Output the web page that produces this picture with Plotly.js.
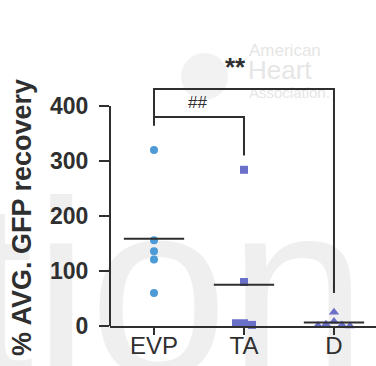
<!DOCTYPE html>
<html><head><meta charset="utf-8">
<script src="https://cdn.plot.ly/plotly-3.0.1.min.js"></script>
<style>html,body{margin:0;padding:0;background:#fff}#chart{width:376px;height:366px}</style>
</head><body><div id="chart"></div>
<script>
// ---- data ----
const categories = ['EVP', 'TA', 'D'];
const evpValues = [320, 156, 136, 121, 60];
const taValues = [284, 80, 5, 2, 5];
const dValues = [25, 8, 3, 2, 1, 0];
const yTickVals = [0, 100, 200, 300, 400];
const yTickText = ['0', '100', '200', '300', '400'];
const yTitle = '% AVG. GFP recovery';
const sigLabels = ['##', '**'];

// ---- geometry ----
const W = 376, H = 366;
const M = {l: 110, r: 0, t: 0, b: 40};
const PW = W - M.l - M.r, PH = H - M.t - M.b;
const xRange = [-0.489, 2.467];
const yRange = [0, 592.7];
const pxX = PW / (xRange[1] - xRange[0]);
const pxY = PH / (yRange[1] - yRange[0]);
const px2paperX = p => (p - M.l) / PW;
const px2paperY = p => (H - M.b - p) / PH;

// simple beeswarm: offsets in x units so markers don't overlap
function swarm(vals, idx, diam, step) {
  const order = vals.map((v, i) => i).sort((a, b) => vals[b] - vals[a]);
  const placed = [];
  const xs = new Array(vals.length);
  order.forEach(i => {
    const yp = vals[i] * pxY;
    for (let k = 0; k < 50; k++) {
      const off = (k === 0 ? 0 : (k % 2 ? -1 : 1) * Math.ceil(k / 2)) * step;
      const ok = placed.every(p => Math.hypot(p.x - off, p.y - yp) >= diam);
      if (ok) { placed.push({x: off, y: yp}); xs[i] = idx + off / pxX; break; }
    }
  });
  return xs;
}

const groups = [
  {vals: evpValues, symbol: 'circle', color: '#4c9bd6', size: 8},
  {vals: taValues, symbol: 'square', color: '#6a6fc8', size: 8},
  {vals: dValues, symbol: 'triangle-up', color: '#6a6fc8', size: 9}
];

const traces = groups.map((g, i) => ({
  type: 'scatter', mode: 'markers',
  x: swarm(g.vals, i, 8, 8), y: g.vals,
  marker: {symbol: g.symbol, color: g.color, size: g.size, line: {width: 0}},
  cliponaxis: false, showlegend: false, hoverinfo: 'skip'
}));

const dark = '#2f2f2f';
const wm = '#efefef';
const shapes = [];
// large background watermark text (drawn below everything)
shapes.push({type: 'rect', xref: 'paper', yref: 'paper', layer: 'below',
  x0: px2paperX(-42), x1: px2paperX(420), y0: px2paperY(408), y1: px2paperY(130),
  line: {width: 0}, fillcolor: 'rgba(0,0,0,0)',
  label: {text: 'tion', textposition: 'bottom left', padding: 3,
    font: {family: 'Liberation Sans, Arial', size: 250, color: wm}}});
// watermark apple
shapes.push({type: 'circle', xref: 'paper', yref: 'paper', layer: 'below',
  x0: px2paperX(181), x1: px2paperX(228), y0: px2paperY(100), y1: px2paperY(53),
  fillcolor: '#f2f2f2', line: {width: 0}});
// AHA watermark words, below
const ahaWords = [['American', 246, 48, 17], ['Heart', 245, 68, 26], ['Association.', 246, 91, 15]];
ahaWords.forEach(([t, x, y, s]) => {
  shapes.push({type: 'rect', xref: 'paper', yref: 'paper', layer: 'below',
    x0: px2paperX(x), x1: px2paperX(x + 150), y0: px2paperY(y + 12), y1: px2paperY(y - 12),
    line: {width: 0}, fillcolor: 'rgba(0,0,0,0)',
    label: {text: t, textposition: 'middle left', padding: 0,
      font: {family: 'Liberation Sans, Arial', size: s, color: '#e6e6e6'}}});
});
// y axis line 0..400
shapes.push({type: 'line', xref: 'paper', yref: 'y', x0: 0, x1: 0, y0: 0, y1: yTickVals[yTickVals.length - 1],
  line: {color: dark, width: 2}});
// mean lines
groups.forEach((g, i) => {
  const m = g.vals.reduce((a, b) => a + b, 0) / g.vals.length;
  shapes.push({type: 'line', xref: 'x', yref: 'y', x0: i - 0.335, x1: i + 0.335, y0: m, y1: m,
    line: {color: dark, width: 2}});
});
// significance brackets
const maxOf = a => Math.max(...a);
const b2 = 431, b1 = 380;
shapes.push({type: 'path', xref: 'x', yref: 'y',
  path: `M 0 ${maxOf(evpValues) + 44} L 0 ${b2} L 2 ${b2} L 2 ${maxOf(dValues) + 35}`,
  line: {color: dark, width: 2}});
shapes.push({type: 'path', xref: 'x', yref: 'y',
  path: `M 0 ${b1} L 1 ${b1} L 1 ${maxOf(taValues) + 26}`,
  line: {color: dark, width: 2}});

const annotations = [
  {text: yTitle, xref: 'paper', yref: 'paper', x: px2paperX(22), y: px2paperY(218),
   xanchor: 'center', yanchor: 'middle', textangle: -90, showarrow: false,
   font: {family: 'Liberation Sans, Arial', size: 27, color: dark, weight: 'bold'}},
  {text: sigLabels[0], xref: 'x', yref: 'y', x: 0.478, y: 407, showarrow: false,
   xanchor: 'center', yanchor: 'middle',
   font: {family: 'Liberation Sans, Arial', size: 17, color: dark}},
  {text: sigLabels[1], xref: 'x', yref: 'y', x: 0.911, y: 470, showarrow: false,
   xanchor: 'center', yanchor: 'middle',
   font: {family: 'Liberation Sans, Arial', size: 26, color: dark, weight: 'bold'}}
];

const layout = {
  width: W, height: H, margin: M,
  paper_bgcolor: '#fff', plot_bgcolor: 'rgba(0,0,0,0)',
  xaxis: {
    range: xRange, tickmode: 'array', tickvals: [0, 1, 2], ticktext: categories,
    showline: true, linecolor: dark, linewidth: 2, ticks: 'outside', ticklen: 7,
    tickwidth: 2, tickcolor: dark, showgrid: false, zeroline: false, ticklabelstandoff: -10,
    tickfont: {family: 'Liberation Sans, Arial', size: 24, color: dark},
    fixedrange: true
  },
  yaxis: {
    range: yRange, tickmode: 'array', tickvals: yTickVals, ticktext: yTickText,
    showline: false, ticks: 'outside', ticklen: 10, tickwidth: 2, tickcolor: dark,
    showgrid: false, zeroline: false, ticklabelstandoff: 6,
    tickfont: {family: 'Liberation Sans, Arial', size: 23, color: dark, weight: 'bold'},
    fixedrange: true
  },
  shapes: shapes, annotations: annotations, showlegend: false
};

Plotly.newPlot('chart', traces, layout, {staticPlot: true, displayModeBar: false});
</script></body></html>
